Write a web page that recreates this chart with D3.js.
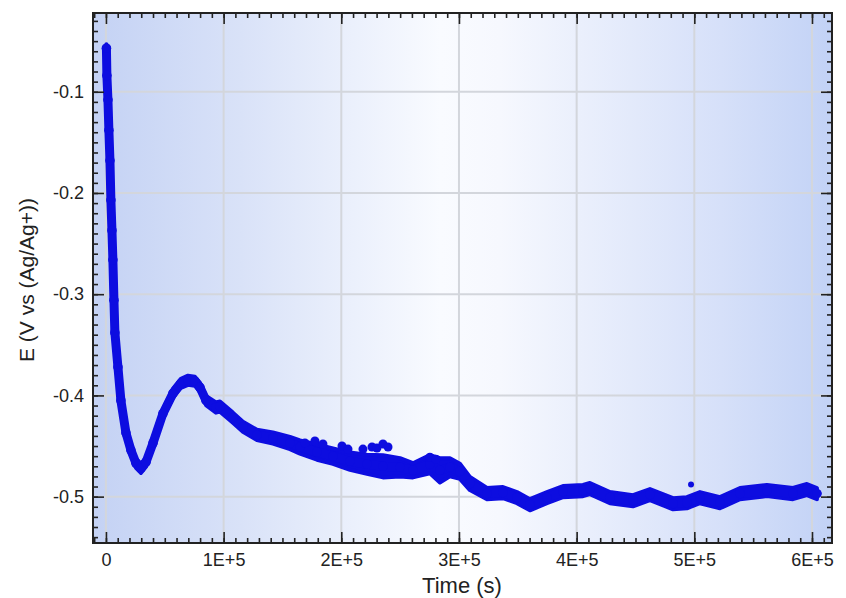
<!DOCTYPE html>
<html>
<head>
<meta charset="utf-8">
<script src="https://cdn.jsdelivr.net/npm/d3@7"></script>
<style>
  html, body { margin: 0; padding: 0; background: #ffffff; }
  svg { display: block; }
  text { font-family: "Liberation Sans", Arial, sans-serif; fill: #222; }
</style>
</head>
<body>
<svg id="chart" width="846" height="598"></svg>
<script>
// Potential vs time record (E in V vs Ag/Ag+, t in seconds)
const timeS = [400, 800, 1700, 2500, 3400, 4200, 5100, 5900, 6800, 7600, 10200, 12700, 17000, 21200,
  25500, 29700, 34000, 40000, 48400, 56900, 63700, 69700, 75600, 79900, 85000, 93500, 96900, 107900,
  116400, 128300, 141900, 156400, 164900, 179300, 192900, 207400, 221800, 235400, 249900, 260900,
  275300, 283800, 292300, 300800, 309300, 323800, 337400, 349300, 360300, 374800, 388400, 405400,
  411300, 428300, 447900, 462300, 481900, 493700, 504800, 521800, 538800, 561700, 583800, 595700, 604200];
const potentialV = [-0.057, -0.084, -0.108, -0.138, -0.168, -0.207, -0.237, -0.266, -0.306, -0.338,
  -0.372, -0.405, -0.437, -0.454, -0.467, -0.472, -0.466, -0.447, -0.418, -0.398, -0.388, -0.385,
  -0.386, -0.392, -0.405, -0.412, -0.411, -0.422, -0.431, -0.439, -0.442, -0.447, -0.451, -0.456,
  -0.460, -0.465, -0.468, -0.470, -0.471, -0.474, -0.468, -0.474, -0.471, -0.475, -0.487, -0.497,
  -0.496, -0.501, -0.508, -0.501, -0.495, -0.494, -0.492, -0.501, -0.504, -0.498, -0.507, -0.506,
  -0.501, -0.506, -0.497, -0.494, -0.497, -0.493, -0.497];
// Scatter half-width of the trace around each point (V)
const spreadV = [0.004, 0.004, 0.004, 0.004, 0.004, 0.004, 0.004, 0.004, 0.004, 0.004,
  0.0045, 0.0045, 0.0045, 0.0045, 0.0045, 0.0045, 0.0045, 0.0045, 0.0045, 0.0045, 0.0045, 0.0045,
  0.0045, 0.0045, 0.0045, 0.005, 0.005, 0.005, 0.005, 0.005, 0.0055, 0.006, 0.0065, 0.0075,
  0.0075, 0.0085, 0.0095, 0.011, 0.009, 0.007, 0.009, 0.012, 0.009, 0.0075, 0.0065, 0.0055,
  0.0055, 0.0055, 0.0055, 0.0055, 0.0055, 0.0055, 0.0055, 0.0055, 0.0055, 0.0055, 0.0055, 0.0055,
  0.0055, 0.0055, 0.0055, 0.0055, 0.0055, 0.0055, 0.0055];

// Isolated excursions off the main trace
const spikeTimeS = [169100, 177600, 184400, 200600, 205700, 218400, 226100, 230300, 235400, 239700,
  275300, 280400, 497200];
const spikeV = [-0.447, -0.445, -0.448, -0.450, -0.453, -0.453, -0.451, -0.452, -0.448, -0.451,
  -0.461, -0.463, -0.488];

const xTickValues = [0, 100000, 200000, 300000, 400000, 500000, 600000];
const xTickLabels = ["0", "1E+5", "2E+5", "3E+5", "4E+5", "5E+5", "6E+5"];
const yTickValues = [-0.1, -0.2, -0.3, -0.4, -0.5];
const yTickLabels = ["-0.1", "-0.2", "-0.3", "-0.4", "-0.5"];
const xTitle = "Time (s)";
const yTitle = "E (V vs (Ag/Ag+))";

const plot = { left: 93, top: 13, right: 832, bottom: 543 };
const svg = d3.select("#chart");

const x = d3.scaleLinear().domain([-11000, 617000]).range([plot.left, plot.right]);
const y = d3.scaleLinear().domain([-0.5458, -0.0222]).range([plot.bottom, plot.top]);

// Panel background: blue at the sides, fading to white in the middle
const defs = svg.append("defs");
const grad = defs.append("linearGradient").attr("id", "panelFill")
  .attr("x1", "0%").attr("x2", "100%").attr("y1", "0%").attr("y2", "0%");
[[0, "#c4d2f4"], [0.2, "#d9e2f8"], [0.47, "#f9fbff"], [0.55, "#f6f8fe"], [0.85, "#d6e0f9"], [1, "#c2d2f6"]]
  .forEach(([o, c]) => grad.append("stop").attr("offset", o).attr("stop-color", c));

svg.append("rect")
  .attr("x", plot.left).attr("y", plot.top)
  .attr("width", plot.right - plot.left).attr("height", plot.bottom - plot.top)
  .attr("fill", "url(#panelFill)");

// Grid
const grid = svg.append("g").attr("stroke", "#d3d6dc").attr("stroke-width", 2);
grid.selectAll("line.v").data(xTickValues).join("line")
  .attr("x1", d => x(d)).attr("x2", d => x(d))
  .attr("y1", plot.top).attr("y2", plot.bottom);
grid.selectAll("line.h").data(yTickValues).join("line")
  .attr("y1", d => y(d)).attr("y2", d => y(d))
  .attr("x1", plot.left).attr("x2", plot.right);

// Trace: scatter band plus the centre line
const pts = timeS.map((t, i) => ({ t, e: potentialV[i], s: spreadV[i] }));
const blue = "#0d0de0";
const band = d3.area().x(d => x(d.t)).y0(d => y(d.e - d.s)).y1(d => y(d.e + d.s));
svg.append("path").datum(pts)
  .attr("d", band).attr("fill", blue)
  .attr("stroke", blue).attr("stroke-width", 4).attr("stroke-linejoin", "round");
const line = d3.line().x(d => x(d.t)).y(d => y(d.e));
svg.append("path").datum(pts)
  .attr("d", line)
  .attr("fill", "none").attr("stroke", blue)
  .attr("stroke-width", 9).attr("stroke-linejoin", "round").attr("stroke-linecap", "round");
svg.append("g").selectAll("circle").data(pts).join("circle")
  .attr("cx", d => x(d.t)).attr("cy", d => y(d.e)).attr("r", 4.8).attr("fill", blue);

const spikes = spikeTimeS.map((t, i) => [t, spikeV[i]]);
svg.append("g").selectAll("circle").data(spikes).join("circle")
  .attr("cx", d => x(d[0])).attr("cy", d => y(d[1]))
  .attr("r", (d, i) => i === spikes.length - 1 ? 3 : 4.5)
  .attr("fill", blue);

// Axes with inward ticks on all four sides
const xMinor = d3.range(-10000, 617000, 10000);
const yMinor = d3.range(-54, -2).map(v => v / 100);

function styleAxis(g) {
  g.select(".domain").remove();
  g.selectAll(".tick line").attr("stroke", "#222").attr("stroke-width", 1.6);
}

const fmtX = d => xTickLabels[xTickValues.indexOf(d)];
const fmtY = d => yTickLabels[yTickValues.findIndex(v => Math.abs(v - d) < 1e-9)];

svg.append("g").attr("transform", `translate(0,${plot.bottom})`)
  .call(d3.axisBottom(x).tickValues(xMinor).tickSize(-5).tickFormat(""))
  .call(styleAxis);
svg.append("g").attr("transform", `translate(0,${plot.bottom})`)
  .call(d3.axisBottom(x).tickValues(xTickValues).tickSize(-11).tickPadding(10).tickFormat(fmtX))
  .call(styleAxis)
  .call(g => g.selectAll("text").attr("font-size", 18).attr("fill", "#222"));

svg.append("g").attr("transform", `translate(0,${plot.top})`)
  .call(d3.axisTop(x).tickValues(xMinor).tickSize(-5).tickFormat(""))
  .call(styleAxis);
svg.append("g").attr("transform", `translate(0,${plot.top})`)
  .call(d3.axisTop(x).tickValues(xTickValues).tickSize(-11).tickFormat(""))
  .call(styleAxis);

svg.append("g").attr("transform", `translate(${plot.left},0)`)
  .call(d3.axisLeft(y).tickValues(yMinor).tickSize(-5).tickFormat(""))
  .call(styleAxis);
svg.append("g").attr("transform", `translate(${plot.left},0)`)
  .call(d3.axisLeft(y).tickValues(yTickValues).tickSize(-11).tickPadding(9).tickFormat(fmtY))
  .call(styleAxis)
  .call(g => g.selectAll("text").attr("font-size", 18).attr("fill", "#222"));

svg.append("g").attr("transform", `translate(${plot.right},0)`)
  .call(d3.axisRight(y).tickValues(yMinor).tickSize(-5).tickFormat(""))
  .call(styleAxis);
svg.append("g").attr("transform", `translate(${plot.right},0)`)
  .call(d3.axisRight(y).tickValues(yTickValues).tickSize(-11).tickFormat(""))
  .call(styleAxis);

// Frame
svg.append("rect")
  .attr("x", plot.left).attr("y", plot.top)
  .attr("width", plot.right - plot.left).attr("height", plot.bottom - plot.top)
  .attr("fill", "none").attr("stroke", "#222").attr("stroke-width", 2);

// Titles
svg.append("text")
  .attr("x", (x(0) + x(600000)) / 2 + 3).attr("y", 593)
  .attr("text-anchor", "middle").attr("font-size", 22).text(xTitle);
svg.append("text")
  .attr("transform", `translate(34,${(plot.top + plot.bottom) / 2 + 2}) rotate(-90)`)
  .attr("text-anchor", "middle").attr("font-size", 21).text(yTitle);
</script>
</body>
</html>
